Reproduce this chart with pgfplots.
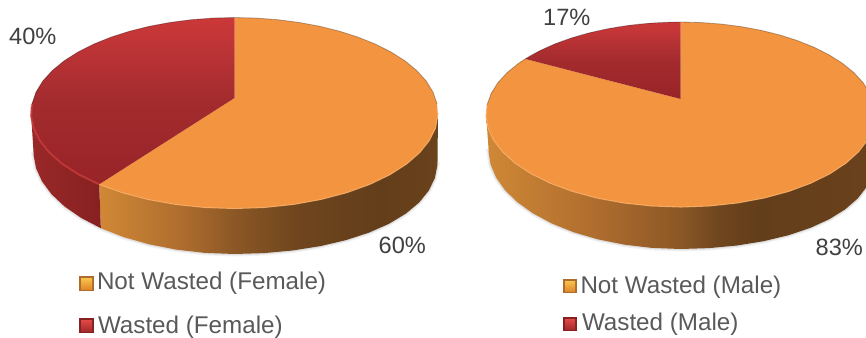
\documentclass[border=0pt]{standalone}
\usepackage{pgfplots}
\pgfplotsset{compat=1.18}
\usepackage{pgfplotstable}
\usepackage{fontspec}
\setmainfont{Liberation Sans}

\definecolor{topOrange}{HTML}{F29440}
\definecolor{rimOrange}{HTML}{F9AE66}
\definecolor{rimRed}{HTML}{CC3A3A}
\definecolor{legendText}{HTML}{595959}
\definecolor{pctText}{HTML}{404040}
\definecolor{wa}{HTML}{D08836}
\definecolor{wb}{HTML}{AD6C2E}
\definecolor{wc}{HTML}{8B5725}
\definecolor{wd}{HTML}{6E451E}
\definecolor{we}{HTML}{633E1A}
\definecolor{wf}{HTML}{6A421C}
\definecolor{ra}{HTML}{CB3838}
\definecolor{rb}{HTML}{C13537}
\definecolor{rc}{HTML}{A32B2E}
\definecolor{rd}{HTML}{982427}
\definecolor{wallRedL}{HTML}{9A2828}
\definecolor{wallRedR}{HTML}{862121}
\definecolor{swatchOrangeHi}{HTML}{F9C24A}
\definecolor{swatchOrangeLo}{HTML}{E08A2C}
\definecolor{swatchRedHi}{HTML}{E14848}
\definecolor{swatchRedLo}{HTML}{A82A2C}

% Side wall, light on the left and dark towards the right
\pgfdeclarehorizontalshading{wallF}{100bp}{color(0bp)=(wa); color(25bp)=(wa); color(37.5bp)=(wb); color(45bp)=(wc); color(54.5bp)=(wd); color(66.5bp)=(we); color(75bp)=(wf); color(100bp)=(wf)}
\pgfdeclarehorizontalshading{wallM}{100bp}{color(0bp)=(wa); color(25bp)=(wa); color(39.6bp)=(wb); color(50bp)=(wc); color(55bp)=(wd); color(60bp)=(we); color(75bp)=(wf); color(100bp)=(wf)}
% Red top faces fade from the back of the disc to the front
\pgfdeclareverticalshading{redTop}{100bp}{color(0bp)=(rd); color(25bp)=(rd); color(50bp)=(rc); color(68bp)=(rb); color(75bp)=(ra); color(100bp)=(ra)}

% s = cumulative share in percent (clockwise from the top), r = radius, b = 0 top rim / 1 bottom rim
\pgfplotstableread[row sep=crcr]{
s r b\\ 0 0 0\\ 0 1 0\\ 2 1 0\\ 4 1 0\\ 6 1 0\\ 8 1 0\\ 10 1 0\\ 12 1 0\\ 14 1 0\\ 16 1 0\\ 18 1 0\\ 20 1 0\\ 22 1 0\\ 24 1 0\\ 26 1 0\\ 28 1 0\\ 30 1 0\\ 32 1 0\\ 34 1 0\\ 36 1 0\\ 38 1 0\\ 40 1 0\\ 42 1 0\\ 44 1 0\\ 46 1 0\\ 48 1 0\\ 50 1 0\\ 52 1 0\\ 54 1 0\\ 56 1 0\\ 58 1 0\\ 60 1 0\\
}\femaleNotWasted
\pgfplotstableread[row sep=crcr]{
s r b\\ 60 0 0\\ 60 1 0\\ 62 1 0\\ 64 1 0\\ 66 1 0\\ 68 1 0\\ 70 1 0\\ 72 1 0\\ 74 1 0\\ 76 1 0\\ 78 1 0\\ 80 1 0\\ 82 1 0\\ 84 1 0\\ 86 1 0\\ 88 1 0\\ 90 1 0\\ 92 1 0\\ 94 1 0\\ 96 1 0\\ 98 1 0\\ 100 1 0\\
}\femaleWasted
\pgfplotstableread[row sep=crcr]{
s r b\\ 0 0 0\\ 0 1 0\\ 2 1 0\\ 4 1 0\\ 6 1 0\\ 8 1 0\\ 10 1 0\\ 12 1 0\\ 14 1 0\\ 16 1 0\\ 18 1 0\\ 20 1 0\\ 22 1 0\\ 24 1 0\\ 26 1 0\\ 28 1 0\\ 30 1 0\\ 32 1 0\\ 34 1 0\\ 36 1 0\\ 38 1 0\\ 40 1 0\\ 42 1 0\\ 44 1 0\\ 46 1 0\\ 48 1 0\\ 50 1 0\\ 52 1 0\\ 54 1 0\\ 56 1 0\\ 58 1 0\\ 60 1 0\\ 62 1 0\\ 64 1 0\\ 66 1 0\\ 68 1 0\\ 70 1 0\\ 72 1 0\\ 74 1 0\\ 76 1 0\\ 78 1 0\\ 80 1 0\\ 82 1 0\\ 83 1 0\\
}\maleNotWasted
\pgfplotstableread[row sep=crcr]{
s r b\\ 83 0 0\\ 83 1 0\\ 85 1 0\\ 87 1 0\\ 89 1 0\\ 91 1 0\\ 93 1 0\\ 95 1 0\\ 97 1 0\\ 99 1 0\\ 100 1 0\\
}\maleWasted
% Visible side walls
\pgfplotstableread[row sep=crcr]{
s r b\\ 27.5 1 0\\ 28 1 0\\ 30 1 0\\ 32 1 0\\ 34 1 0\\ 36 1 0\\ 38 1 0\\ 40 1 0\\ 42 1 0\\ 44 1 0\\ 46 1 0\\ 48 1 0\\ 50 1 0\\ 52 1 0\\ 54 1 0\\ 56 1 0\\ 58 1 0\\ 60 1 0\\
60 1 1\\ 58 1 1\\ 56 1 1\\ 54 1 1\\ 52 1 1\\ 50 1 1\\ 48 1 1\\ 46 1 1\\ 44 1 1\\ 42 1 1\\ 40 1 1\\ 38 1 1\\ 36 1 1\\ 34 1 1\\ 32 1 1\\ 30 1 1\\ 28 1 1\\ 27.5 1 1\\
}\wallFemaleOrange
\pgfplotstableread[row sep=crcr]{
s r b\\ 60 1 0\\ 62 1 0\\ 64 1 0\\ 66 1 0\\ 68 1 0\\ 70 1 0\\ 72 1 0\\ 72.5 1 0\\ 72.5 1 1\\ 72 1 1\\ 70 1 1\\ 68 1 1\\ 66 1 1\\ 64 1 1\\ 62 1 1\\ 60 1 1\\
}\wallFemaleRed
\pgfplotstableread[row sep=crcr]{
s r b\\ 27.5 1 0\\ 28 1 0\\ 30 1 0\\ 32 1 0\\ 34 1 0\\ 36 1 0\\ 38 1 0\\ 40 1 0\\ 42 1 0\\ 44 1 0\\ 46 1 0\\ 48 1 0\\ 50 1 0\\ 52 1 0\\ 54 1 0\\ 56 1 0\\ 58 1 0\\ 60 1 0\\ 62 1 0\\ 64 1 0\\ 66 1 0\\ 68 1 0\\ 70 1 0\\ 72 1 0\\ 72.5 1 0\\
72.5 1 1\\ 72 1 1\\ 70 1 1\\ 68 1 1\\ 66 1 1\\ 64 1 1\\ 62 1 1\\ 60 1 1\\ 58 1 1\\ 56 1 1\\ 54 1 1\\ 52 1 1\\ 50 1 1\\ 48 1 1\\ 46 1 1\\ 44 1 1\\ 42 1 1\\ 40 1 1\\ 38 1 1\\ 36 1 1\\ 34 1 1\\ 32 1 1\\ 30 1 1\\ 28 1 1\\ 27.5 1 1\\
}\wallMale
% Rim polylines
\pgfplotstableread[row sep=crcr]{
s r b\\ 27.5 1 1\\ 30 1 1\\ 32 1 1\\ 34 1 1\\ 36 1 1\\ 38 1 1\\ 40 1 1\\ 42 1 1\\ 44 1 1\\ 46 1 1\\ 48 1 1\\ 50 1 1\\ 52 1 1\\ 54 1 1\\ 56 1 1\\ 58 1 1\\ 60 1 1\\ 62 1 1\\ 64 1 1\\ 66 1 1\\ 68 1 1\\ 70 1 1\\ 72.5 1 1\\
}\rimBottom
\pgfplotstableread[row sep=crcr]{
s r b\\ 74 1 0\\ 76 1 0\\ 78 1 0\\ 80 1 0\\ 82 1 0\\ 84 1 0\\ 86 1 0\\ 88 1 0\\ 90 1 0\\ 92 1 0\\ 94 1 0\\ 96 1 0\\ 98 1 0\\ 100 1 0\\ 102 1 0\\ 104 1 0\\ 106 1 0\\ 108 1 0\\ 110 1 0\\ 112 1 0\\ 114 1 0\\ 116 1 0\\ 118 1 0\\ 120 1 0\\ 122 1 0\\ 124 1 0\\ 126 1 0\\
}\rimBack
\pgfplotstableread[row sep=crcr]{
s r b\\ 27.5 1 0\\ 30 1 0\\ 32 1 0\\ 34 1 0\\ 36 1 0\\ 38 1 0\\ 40 1 0\\ 42 1 0\\ 44 1 0\\ 46 1 0\\ 48 1 0\\ 50 1 0\\ 52 1 0\\ 54 1 0\\ 56 1 0\\ 58 1 0\\ 60 1 0\\
}\rimFrontA
\pgfplotstableread[row sep=crcr]{
s r b\\ 60 1 0\\ 62 1 0\\ 64 1 0\\ 66 1 0\\ 68 1 0\\ 70 1 0\\ 72 1 0\\ 74 1 0\\
}\rimFrontB

% Perspective projection of the disc: shares become points on the drawn ellipses;
% the lower rim swells a little towards the right
\pgfplotsset{
  table/female/.style={
    x expr={234.5+(203.5-2.5*\thisrow{b})*hx(\thisrow{s},\thisrow{r},0.157)+2*\thisrow{b}*sw(\thisrow{s},0.157)},
    y expr={113+39*\thisrow{b}-(95.5+6.5*\thisrow{b})*hy(\thisrow{s},\thisrow{r},0.157)+10*\thisrow{b}*sw(\thisrow{s},0.157)}},
  table/male/.style={
    x expr={680.5+(194.5-2.5*\thisrow{b})*hx(\thisrow{s},\thisrow{r},0.168)+2*\thisrow{b}*sw(\thisrow{s},0.168)},
    y expr={114.5+35.5*\thisrow{b}-(92.5+6.5*\thisrow{b})*hy(\thisrow{s},\thisrow{r},0.168)+10*\thisrow{b}*sw(\thisrow{s},0.168)}},
  swatch/.style={draw=none,fill=#1},
  shadowline/.style={draw=black,opacity=#1,no marks},
}

\begin{document}
\begin{tikzpicture}[declare function={
    qx(\s,\r)=\r*cos(90-3.6*\s);
    qy(\s,\r)=\r*sin(90-3.6*\s);
    hd(\s,\r,\k)=1+\k*qy(\s,\r);
    hx(\s,\r,\k)=qx(\s,\r)*sqrt(1-\k*\k)/hd(\s,\r,\k);
    hy(\s,\r,\k)=(qy(\s,\r)+\k)/hd(\s,\r,\k);
    sw(\s,\k)=max(hx(\s,1,\k),0)*max(hx(\s,1,\k),0);
  }]
\path[use as bounding box] (0,0) rectangle (866pt,337pt);
\begin{axis}[
  at={(0,0)}, anchor=south west,
  scale only axis, width=866pt, height=337pt,
  xmin=0, xmax=866, ymin=0, ymax=337, y dir=reverse,
  hide axis, clip=true,
  every node/.append style={inner sep=0pt, outer sep=0pt},
]
% Soft shadow under the walls
\addplot[shadowline=0.05, line width=5pt] table[female] {\rimBottom};
\addplot[shadowline=0.08, line width=2.5pt] table[female] {\rimBottom};
\addplot[shadowline=0.05, line width=5pt] table[male] {\rimBottom};
\addplot[shadowline=0.08, line width=2.5pt] table[male] {\rimBottom};

% Walls
\addplot[draw=none, shade, shading=wallF] table[female] {\wallFemaleOrange};
\addplot[draw=none, left color=wallRedL, right color=wallRedR] table[female] {\wallFemaleRed};
\addplot[draw=none, shade, shading=wallM] table[male] {\wallMale};

% Top faces
\addplot[draw=none, fill=topOrange] table[female] {\femaleNotWasted};
\addplot[draw=none, shade, shading=redTop] table[female] {\femaleWasted};
\addplot[draw=none, fill=topOrange] table[male] {\maleNotWasted};
\addplot[draw=none, shade, shading=redTop] table[male] {\maleWasted};

% Rims
\addplot[draw=rimOrange, line width=1.1pt, opacity=0.8] table[female] {\rimFrontA};
\addplot[draw=rimRed, line width=2pt, opacity=0.7] table[female] {\rimFrontB};
\addplot[draw=rimOrange, line width=1.1pt, opacity=0.8] table[male] {\rimFrontA};
\addplot[draw=rimOrange, line width=1.1pt, opacity=0.8] table[male] {\rimFrontB};
\addplot[draw=black, line width=0.8pt, opacity=0.28] table[female] {\rimBack};
\addplot[draw=black, line width=0.8pt, opacity=0.28] table[male] {\rimBack};

% Legend swatches
\addplot[swatch=wb] coordinates {(79,276) (94,276) (94,291) (79,291)};
\addplot[draw=none, top color=swatchOrangeHi, bottom color=swatchOrangeLo] coordinates {(81,278) (92,278) (92,289) (81,289)};
\addplot[swatch=wallRedR] coordinates {(79,318) (94,318) (94,333) (79,333)};
\addplot[draw=none, top color=swatchRedHi, bottom color=swatchRedLo] coordinates {(81,320) (92,320) (92,331) (81,331)};
\addplot[swatch=wb] coordinates {(563,279) (577,279) (577,293) (563,293)};
\addplot[draw=none, top color=swatchOrangeHi, bottom color=swatchOrangeLo] coordinates {(565,281) (575,281) (575,291) (565,291)};
\addplot[swatch=wallRedR] coordinates {(563,317) (577,317) (577,331) (563,331)};
\addplot[draw=none, top color=swatchRedHi, bottom color=swatchRedLo] coordinates {(565,319) (575,319) (575,329) (565,329)};

% Texts
\begin{scope}[every node/.style={anchor=base west, inner sep=0pt, font=\fontsize{23.6}{26}\selectfont, text=pctText}]
\node at (axis cs:9,45) {40\%};
\node at (axis cs:378.5,253.5) {60\%};
\node at (axis cs:543,26) {17\%};
\node at (axis cs:815.5,255) {83\%};
\end{scope}
\begin{scope}[every node/.style={anchor=base west, inner sep=0pt, font=\fontsize{24.2}{26}\selectfont, text=legendText}]
\node at (axis cs:96.8,289.5) {Not Wasted (Female)};
\node at (axis cs:97.8,333) {Wasted (Female)};
\node at (axis cs:580.3,293.5) {Not Wasted (Male)};
\node at (axis cs:581.8,330) {Wasted (Male)};
\end{scope}
\end{axis}
\end{tikzpicture}
\end{document}
